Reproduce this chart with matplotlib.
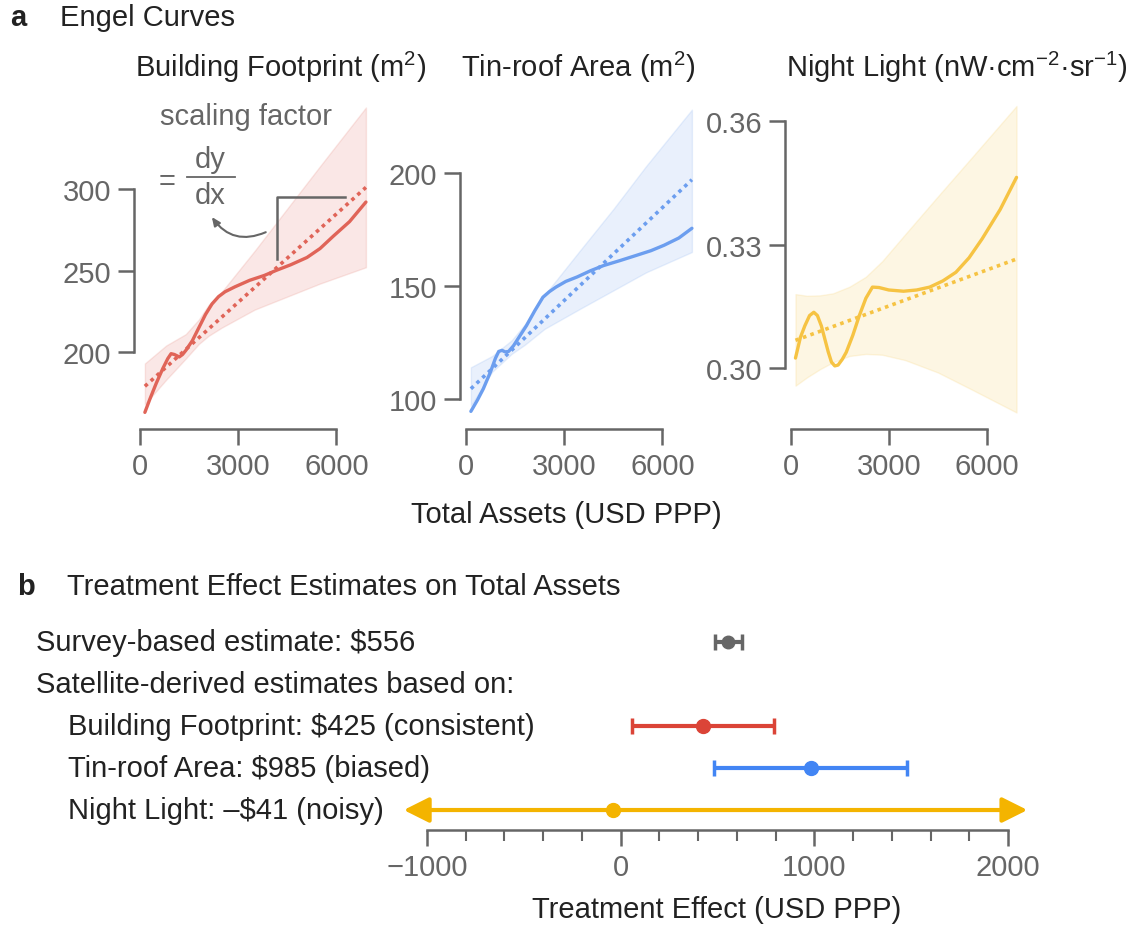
import matplotlib
matplotlib.use("Agg")
import matplotlib.pyplot as plt
from matplotlib.ticker import MultipleLocator, FormatStrFormatter
from matplotlib.transforms import blended_transform_factory

plt.rcParams['font.family'] = ['Liberation Sans', 'DejaVu Sans']
plt.rcParams['mathtext.fontset'] = 'custom'
plt.rcParams['mathtext.rm'] = 'Liberation Sans'
plt.rcParams['mathtext.it'] = 'Liberation Sans:italic'
plt.rcParams['mathtext.bf'] = 'Liberation Sans:bold'

GRAY = '#666666'
DARK = '#222222'
FS = 21

### panel a data : Engel curves
bf_x = [150, 300, 500, 700, 850, 950, 1050, 1200, 1300, 1400, 1600, 1800, 2000, 2200, 2400,
        2600, 2900, 3350, 3800, 4150, 4600, 5100, 5500, 5900, 6400, 6900]
bf_y = [163, 171, 181, 190, 196, 199, 198.5, 197, 198.5, 201, 207, 215, 223, 229.5, 234,
        237, 240, 244, 247, 250, 253.5, 258, 263.5, 271, 280, 292]
bf_band_x = [150, 800, 1400, 1800, 2100, 2500, 3500, 4500, 5500, 6900]
bf_lo = [168, 183, 196, 205, 210, 215, 226, 234, 242, 252]
bf_hi = [193, 204, 211, 220, 229, 237, 262, 288, 314, 350]
bf_fit_x = [150, 6900]
bf_fit_y = [179, 301]

tr_x = [150, 350, 530, 750, 900, 1000, 1100, 1200, 1300, 1450, 1650, 1850, 2100, 2350, 2550,
        2750, 3050, 3400, 3800, 4200, 4700, 5200, 5650, 6050, 6500, 6900]
tr_y = [94.5, 99.5, 104.5, 112, 118, 121, 121.5, 120.8, 121, 123.5, 128, 132.5, 139, 145, 147.5,
        149.5, 152, 154, 156.7, 159, 161.2, 163.5, 165.6, 168, 171.2, 175.5]
tr_band_x = [150, 800, 1400, 1800, 2400, 3500, 4500, 5500, 6900]
tr_lo = [97, 112, 120, 124, 131, 140, 148, 156, 165]
tr_hi = [114, 119, 126, 133, 146, 166, 184, 203, 228]
tr_fit_x = [150, 6900]
tr_fit_y = [104.5, 197]

nl_x = [150, 300, 435, 580, 710, 820, 940, 1050, 1150, 1250, 1350, 1450, 1580, 1700, 1900,
        2100, 2300, 2500, 2700, 3000, 3450, 3850, 4250, 4650, 5050, 5450, 5850, 6400, 6900]
nl_y = [0.3025, 0.3075, 0.3103, 0.3128, 0.3136, 0.3128, 0.3103, 0.3070, 0.3040, 0.3015,
        0.3006, 0.3008, 0.3022, 0.3039, 0.3080, 0.3128, 0.3170, 0.3197, 0.3196, 0.3190,
        0.3187, 0.3190, 0.3197, 0.3212, 0.3233, 0.3268, 0.3314, 0.3385, 0.3463]
nl_band_x = [150, 500, 900, 1300, 1800, 2300, 2800, 3500, 4500, 5500, 6900]
nl_lo = [0.2958, 0.2978, 0.2998, 0.3015, 0.3030, 0.3035, 0.3033, 0.3020, 0.2990, 0.2950, 0.2893]
nl_hi = [0.3180, 0.3176, 0.3177, 0.3182, 0.3198, 0.3222, 0.3260, 0.3325, 0.3417, 0.3508, 0.3636]
nl_fit_x = [150, 6900]
nl_fit_y = [0.3068, 0.3265]

### panel b data : treatment effects
est_names = ['Survey', 'Building Footprint', 'Tin-roof Area', 'Night Light']
est_rows = [0, 2, 3, 4]
est_vals = [556, 425, 985, -41]
est_lo = [486, 56, 482, -1120]
est_hi = [626, 790, 1478, 2100]
est_colors = [GRAY, '#DB4437', '#4285F4', '#F4B400']
row_labels = ['Survey-based estimate: $556',
              'Satellite-derived estimates based on:',
              'Building Footprint: $425 (consistent)',
              'Tin-roof Area: $985 (biased)',
              'Night Light: \u2013$41 (noisy)']
row_indent = [0, 0, 1, 1, 1]

W, H = 1133, 928
fig = plt.figure(figsize=(W / 100, H / 100), dpi=100)


def px(x, y):
    return x / W, 1 - y / H


def style_axes(ax):
    for s in ['top', 'right']:
        ax.spines[s].set_visible(False)
    for s in ['left', 'bottom']:
        ax.spines[s].set_color(GRAY)
        ax.spines[s].set_linewidth(1.8)
    ax.tick_params(colors=GRAY, labelcolor=GRAY, labelsize=FS, width=1.8, length=11.5, pad=5)


panels = [
    dict(left=134.4, title='Building Footprint (m$^2$)', color='#E06458',
         x=bf_x, y=bf_y, bx=bf_band_x, lo=bf_lo, hi=bf_hi, fx=bf_fit_x, fy=bf_fit_y,
         ylim=(152.8, 355.2), ticks=[200, 250, 300], fmt='%d'),
    dict(left=460.4, title='Tin-roof Area (m$^2$)', color='#6C9EEF',
         x=tr_x, y=tr_y, bx=tr_band_x, lo=tr_lo, hi=tr_hi, fx=tr_fit_x, fy=tr_fit_y,
         ylim=(86.7, 232.7), ticks=[100, 150, 200], fmt='%d'),
    dict(left=785.0, title='Night Light (nW\u00b7cm$^{-2}$\u00b7sr$^{-1}$)', color='#F6C343',
         x=nl_x, y=nl_y, bx=nl_band_x, lo=nl_lo, hi=nl_hi, fx=nl_fit_x, fy=nl_fit_y,
         ylim=(0.2853, 0.3653), ticks=[0.30, 0.33, 0.36], fmt='%.2f'),
]

axes_a = []
for p in panels:
    l, b = px(p['left'], 430)
    ax = fig.add_axes([l, b, 234.8 / W, 330 / H])
    ax.fill_between(p['bx'], p['lo'], p['hi'], color=p['color'], alpha=0.15, lw=1)
    ax.plot(p['fx'], p['fy'], color=p['color'], lw=2.6, ls=(0, (1, 1.2)))
    ax.plot(p['x'], p['y'], color=p['color'], lw=2.4, solid_capstyle='round',
            solid_joinstyle='round')
    ax.set_xlim(-170, 7000)
    ax.set_ylim(*p['ylim'])
    ax.set_xticks([0, 3000, 6000])
    ax.set_yticks(p['ticks'])
    ax.yaxis.set_major_formatter(FormatStrFormatter(p['fmt']))
    style_axes(ax)
    ax.spines['bottom'].set_bounds(0, 6000)
    ax.spines['left'].set_bounds(p['ticks'][0], p['ticks'][-1])
    tx, ty = px(p['left'] + 1, 67)
    fig.text(tx, ty, p['title'], fontsize=FS, color=DARK, va='center', ha='left')
    axes_a.append(ax)

# scaling factor annotation on first panel
ax0 = axes_a[0]
ax0.text(3232, 344.8, 'scaling factor', fontsize=FS, color=GRAY, ha='center', va='center')
ax0.text(823, 305, '=', fontsize=FS, color=GRAY, ha='center', va='center')
ax0.text(2134, 318.4, 'dy', fontsize=FS, color=GRAY, ha='center', va='center')
ax0.text(2134, 296.3, 'dx', fontsize=FS, color=GRAY, ha='center', va='center')
ax0.plot([1433, 2896], [307.4, 307.4], color=GRAY, lw=1.3, clip_on=False)
ax0.plot([4177, 4177, 6250], [257, 295, 295], color=GRAY, lw=1.8)
ax0.annotate('', xy=(2195, 282.8), xytext=(3841, 273.5),
             arrowprops=dict(arrowstyle='-|>,head_length=0.5,head_width=0.22',
                             color=GRAY, lw=1.5, shrinkA=0, shrinkB=0,
                             connectionstyle='arc3,rad=-0.4'))

fig.text(*px(18, 18), 'a', fontsize=FS, fontweight='bold', color=DARK, ha='center', va='center')
fig.text(*px(60, 18), 'Engel Curves', fontsize=FS, color=DARK, ha='left', va='center')
fig.text(*px(566, 515), 'Total Assets (USD PPP)', fontsize=FS, color=DARK, ha='center', va='center')

### panel b
fig.text(*px(26, 587), 'b', fontsize=FS, fontweight='bold', color=DARK, ha='center', va='center')
fig.text(*px(67, 587), 'Treatment Effect Estimates on Total Assets', fontsize=FS, color=DARK,
         ha='left', va='center')

l, b = px(395, 831)
axb = fig.add_axes([l, b, 645 / W, 211 / H])
axb.set_xlim(-1165, 2165)
axb.set_ylim(4.476, -0.55)

for name, row, v, lo, hi, c in zip(est_names, est_rows, est_vals, est_lo, est_hi, est_colors):
    if name == 'Night Light':
        axb.annotate('', xy=(lo, row), xytext=(hi, row),
                     arrowprops=dict(arrowstyle='<|-|>,head_length=0.9,head_width=0.45',
                                     color=c, lw=3, shrinkA=0, shrinkB=0,
                                     mutation_scale=17))
        axb.plot(v, row, 'o', color=c, ms=10, zorder=3)
    else:
        ms = 9 if name == 'Survey' else 10
        axb.errorbar(v, row, xerr=[[v - lo], [hi - v]], fmt='o', color=c, ms=ms,
                     elinewidth=3, capsize=6, capthick=2.5, zorder=3)

trans = blended_transform_factory(fig.transFigure, axb.transData)
for i, (lab, ind) in enumerate(zip(row_labels, row_indent)):
    axb.text((36 + 32 * ind) / W, i, lab, transform=trans, fontsize=FS, color=DARK,
             ha='left', va='center')

for s in ['top', 'right', 'left']:
    axb.spines[s].set_visible(False)
axb.spines['bottom'].set_color(GRAY)
axb.spines['bottom'].set_linewidth(1.8)
axb.spines['bottom'].set_bounds(-1000, 2000)
axb.set_yticks([])
axb.set_xticks([-1000, 0, 1000, 2000])
axb.xaxis.set_minor_locator(MultipleLocator(200))
axb.tick_params(axis='x', which='major', colors=GRAY, labelcolor=GRAY, labelsize=FS,
                width=1.8, length=11.5, pad=5)
axb.tick_params(axis='x', which='minor', colors=GRAY, width=1.5, length=8)
fig.text(*px(717, 910), 'Treatment Effect (USD PPP)', fontsize=FS, color=DARK,
         ha='center', va='center')

fig.savefig('out.png', dpi=100)
